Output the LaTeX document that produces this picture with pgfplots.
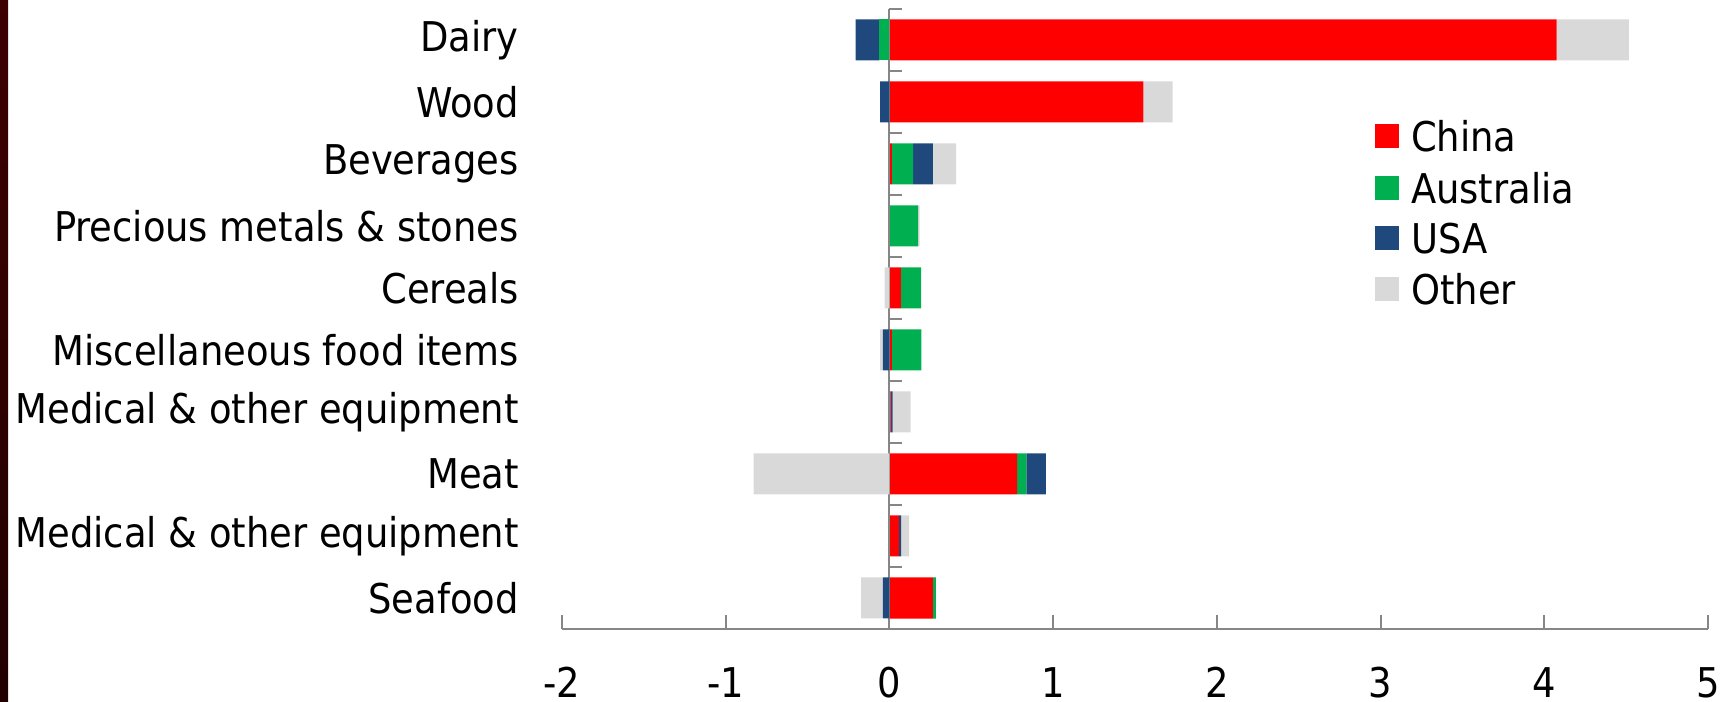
\documentclass[border=0pt]{standalone}
\usepackage{pgfplots}
\pgfplotsset{compat=1.18}
\usepackage{pgfplotstable}
\usepackage{fontspec}
\setmainfont{DejaVu Sans Condensed}
\newcommand\labfont{\fontsize{41}{49}\selectfont}

\definecolor{cChina}{HTML}{FF0000}
\definecolor{cAus}{HTML}{00B050}
\definecolor{cUSA}{HTML}{1F497D}
\definecolor{cOther}{HTML}{D9D9D9}
\definecolor{axgray}{HTML}{868686}

\pgfplotsset{
  sqlegend/.style={legend image code/.code={\fill[##1] (0pt,-12pt) rectangle (24pt,12pt); \path (36pt,0pt);}},
  common/.style={
    at={(562pt,72pt)}, anchor=south west,
    scale only axis, width=1146pt, height=620pt,
    xmin=-2, xmax=5, ymin=-0.5, ymax=9.5,
    xbar stacked, bar width=41pt,
  },
}

% positive parts, y = category index (0 = bottom)
\pgfplotstableread{
y china aus usa other
9 4.076 0     0     0.44
8 1.551 0     0     0.179
7 0.015 0.13  0.12  0.143
6 0     0.175 0     0.01
5 0.07  0.124 0     0
4 0.015 0.18  0     0
3 0.008 0     0.012 0.11
2 0.78  0.057 0.118 0
1 0.057 0     0.014 0.049
0 0.265 0.018 0     0
}\pos
% negative parts
\pgfplotstableread{
y china aus usa other
9 0 -0.062 -0.144 0
8 0 0      -0.057 0
7 0 0      0      0
6 0 0      0      0
5 0 0      0      -0.03
4 0 0      -0.04  -0.017
3 0 0      0      0
2 0 0      0      -0.83
1 0 0      0      0
0 0 0      -0.04  -0.133
}\neg

\begin{document}
\begin{tikzpicture}
\path[use as bounding box] (0,0) rectangle (1731pt,701pt);
\shade[top color={rgb,255:red,62;green,0;blue,0}, middle color={rgb,255:red,8;green,0;blue,0},
  bottom color={rgb,255:red,34;green,0;blue,0}] (0,0) rectangle (8pt,701pt);

\begin{axis}[common,
  axis x line*=bottom, axis y line*=left,
  y axis line style={draw=none}, ytick style={draw=none},
  x axis line style={draw=axgray, line width=2pt},
  xtick style={draw=axgray, line width=2pt},
  tick align=inside, major tick length=14pt,
  xtick={-2,...,5}, xticklabels={-2,-1,0,1,2,3,4,5},
  xticklabel style={font=\labfont, anchor=north, inner sep=0pt, yshift=-38pt},
  ytick={0,...,9},
  yticklabels={Seafood, Medical \& other equipment, Meat, Medical \& other equipment,
    Miscellaneous food items, Cereals, Precious metals \& stones, Beverages, Wood, Dairy},
  yticklabel style={font=\labfont, anchor=east, inner sep=0pt, xshift=-43pt},
  every axis plot post/.append style={sqlegend},
  legend style={at={(0.7094,0.82)}, anchor=north west, draw=none, fill=none,
    font=\labfont, inner sep=0pt, row sep=20pt,
    nodes={inner sep=0pt, text depth=0pt}},
  legend cell align=left,
]
\addplot[fill=cChina, draw=none] table[x=china, y=y] {\pos};
\addplot[fill=cAus, draw=none] table[x=aus, y=y] {\pos};
\addplot[fill=cUSA, draw=none] table[x=usa, y=y] {\pos};
\addplot[fill=cOther, draw=none] table[x=other, y=y] {\pos};
\legend{China, Australia, USA, Other}
\end{axis}

\begin{axis}[common, hide axis, clip=false]
\addplot[fill=cChina, draw=none] table[x=china, y=y] {\neg};
\addplot[fill=cAus, draw=none] table[x=aus, y=y] {\neg};
\addplot[fill=cUSA, draw=none] table[x=usa, y=y] {\neg};
\addplot[fill=cOther, draw=none] table[x=other, y=y] {\neg};
\draw[axgray, line width=2pt] (axis cs:0,-0.5) -- (axis cs:0,9.5);
\pgfplotsinvokeforeach{-0.5,0.5,...,9.5}{
  \draw[axgray, line width=2pt] (axis cs:0,#1) -- ([xshift=13pt]axis cs:0,#1);
}
\end{axis}
\end{tikzpicture}
\end{document}
